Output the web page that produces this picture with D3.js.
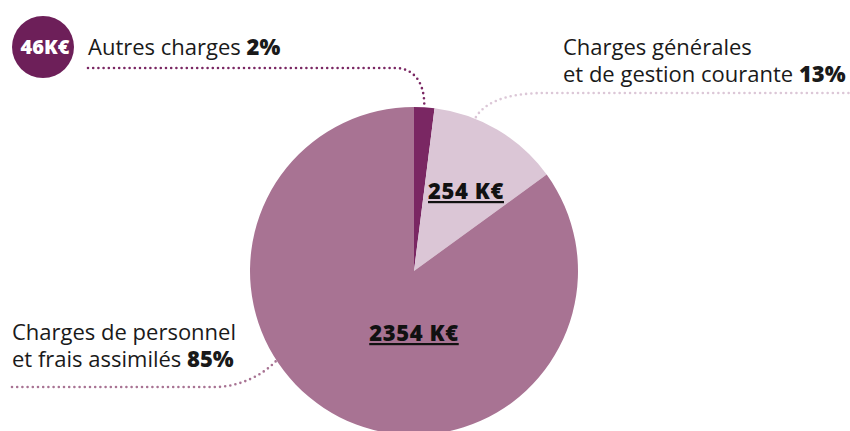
<!DOCTYPE html>
<html>
<head>
<meta charset="utf-8">
<script src="https://cdn.jsdelivr.net/npm/d3@7/dist/d3.min.js"></script>
<style>
  html, body { margin: 0; padding: 0; background: #fff; }
  svg { display: block; }
  text { font-family: "Open Sans", "Noto Sans", sans-serif; }
</style>
</head>
<body>
<svg id="chart" width="850" height="431"></svg>
<script>
// Répartition des charges
const categories = ["Autres charges", "Charges générales et de gestion courante", "Charges de personnel et frais assimilés"];
const shares = [2, 13, 85];          // %
const amounts = [46, 254, 2354];     // K€
const colors = ["#7a2763", "#dbc6d6", "#a87393"];

const svg = d3.select("#chart");
const cx = 414, cy = 271, r = 164;

const pie = d3.pie().sort(null).value(d => d.share);
const arcs = pie(categories.map((c, i) => ({ name: c, share: shares[i], amount: amounts[i] })));
const arc = d3.arc().innerRadius(0).outerRadius(r);

const g = svg.append("g").attr("transform", `translate(${cx},${cy})`);
g.selectAll("path").data(arcs).join("path")
  .attr("d", arc)
  .attr("fill", (d, i) => colors[i]);

// Leader lines (dotted)
const dotted = (sel, color) => sel
  .attr("fill", "none")
  .attr("stroke", color)
  .attr("stroke-width", 2.6)
  .attr("stroke-linecap", "round")
  .attr("stroke-dasharray", "0 5.2");

const edge = (d, frac) => {
  const a = d.startAngle + (d.endAngle - d.startAngle) * frac;
  return [cx + r * Math.sin(a), cy - r * Math.cos(a)];
};

// Autres charges
{
  const [x, y] = edge(arcs[0], 0.5);
  svg.append("path")
    .attr("d", `M88,68 L395,68 C412,68 ${x},80 ${x},${y - 2}`)
    .call(dotted, "#7a2763");
}
// Charges générales
{
  const [x, y] = edge(arcs[1], 0.32);
  svg.append("path")
    .attr("d", `M${x},${y - 2} C${x + 12},${y - 22} 520,93 545,93 L850,93`)
    .call(dotted, "#dcc7d7");
}
// Charges de personnel
{
  const [x, y] = edge(arcs[2], 0.598);
  svg.append("path")
    .attr("d", `M12,387 L215,387 C240,387 ${x - 12},${y + 14} ${x + 1},${y - 1}`)
    .call(dotted, "#a87393");
}

// Badge
svg.append("circle").attr("cx", 43).attr("cy", 47).attr("r", 31).attr("fill", "#6d1f59");
svg.append("text").attr("x", 45).attr("y", 54)
  .attr("text-anchor", "middle").attr("fill", "#fff")
  .attr("font-size", 20).attr("font-weight", 800)
  .text(amounts[0] + "K€");

// Category labels
const label = (x, y, lines) => {
  const t = svg.append("text").attr("x", x).attr("y", y)
    .attr("font-size", 22).attr("fill", "#1a1a1a");
  lines.forEach((ln, i) => {
    const ts = t.append("tspan").attr("x", x).attr("dy", i === 0 ? 0 : 27);
    ts.append("tspan").text(ln[0]);
    if (ln[1]) ts.append("tspan").attr("font-weight", 800).text(ln[1]);
  });
};
label(88, 55, [["Autres charges ", shares[0] + "%"]]);
label(563, 55, [["Charges générales"], ["et de gestion courante ", shares[1] + "%"]]);
label(12, 340, [["Charges de personnel"], ["et frais assimilés ", shares[2] + "%"]]);

// Amount labels inside slices
const valLabel = (x, y, txt) => svg.append("text").attr("x", x).attr("y", y)
  .attr("text-anchor", "middle").attr("font-size", 22).attr("font-weight", 800)
  .attr("letter-spacing", 0.6)
  .attr("fill", "#111").attr("text-decoration", "underline")
  .text(txt);
valLabel(466, 199, amounts[1] + " K€");
valLabel(414, 341, amounts[2] + " K€");
</script>
</body>
</html>
